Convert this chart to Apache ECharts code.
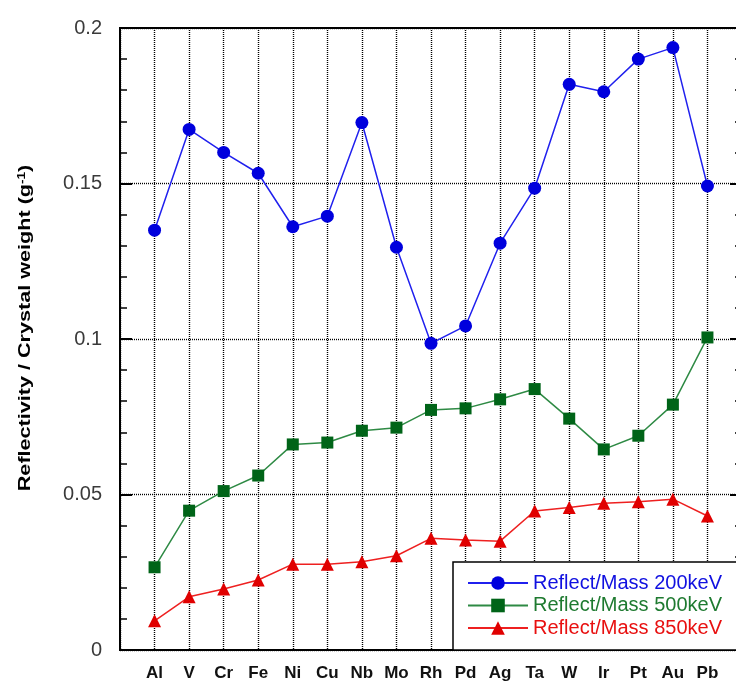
<!DOCTYPE html>
<html>
<head>
<meta charset="utf-8">
<script src="https://cdn.jsdelivr.net/npm/echarts@6/dist/echarts.min.js"></script>
<style>
  html, body { margin: 0; padding: 0; background: #ffffff; }
  #chart { width: 736px; height: 681px; }
</style>
</head>
<body>
<div id="chart"></div>
<script>
// Crystal materials along the x axis
const elements = ['Al', 'V', 'Cr', 'Fe', 'Ni', 'Cu', 'Nb', 'Mo', 'Rh', 'Pd', 'Ag', 'Ta', 'W', 'Ir', 'Pt', 'Au', 'Pb'];

// Reflectivity divided by crystal mass (g^-1) at three energies
const reflect200 = [0.1350, 0.1674, 0.1600, 0.1533, 0.1361, 0.1395, 0.1696, 0.1295, 0.0986, 0.1042, 0.1308, 0.1485, 0.1819, 0.1795, 0.1900, 0.1937, 0.1492];
const reflect500 = [0.0266, 0.0448, 0.0511, 0.0561, 0.0661, 0.0667, 0.0705, 0.0715, 0.0772, 0.0777, 0.0806, 0.0839, 0.0744, 0.0645, 0.0689, 0.0789, 0.1005];
const reflect850 = [0.0094, 0.0171, 0.0196, 0.0225, 0.0276, 0.0276, 0.0284, 0.0303, 0.0359, 0.0354, 0.0350, 0.0447, 0.0458, 0.0472, 0.0477, 0.0485, 0.0431];

const seriesNames = ['Reflect/Mass 200keV', 'Reflect/Mass 500keV', 'Reflect/Mass 850keV'];
const yAxisTitle = 'Reflectivity / Crystal weight (g';

const chart = echarts.init(document.getElementById('chart'), null, { renderer: 'canvas' });

const toPoints = arr => arr.map((v, i) => [i + 1, v]);

const dotted = { color: '#000', width: 1.4, type: [1, 1] };

function makeSeries(name, values, color, lineColor, symbol, size) {
  return {
    name: name,
    type: 'line',
    data: toPoints(values),
    symbol: symbol,
    symbolSize: size,
    showSymbol: true,
    z: 3,
    lineStyle: { color: lineColor, width: 1.5 },
    itemStyle: { color: color, borderColor: color, borderWidth: 0 },
    emphasis: { disabled: true },
    animation: false
  };
}

const option = {
  animation: false,
  backgroundColor: '#ffffff',
  grid: {
    left: 120, top: 28, width: 622, height: 622,
    outerBoundsMode: 'none',
    show: true, borderColor: '#000', borderWidth: 2, backgroundColor: 'transparent',
    containLabel: false
  },
  xAxis: {
    type: 'value',
    min: 0, max: elements.length + 1, interval: 1,
    axisLine: { show: true, lineStyle: { color: '#000', width: 2 } },
    axisTick: { show: false },
    splitLine: { show: true, lineStyle: dotted },
    axisLabel: {
      margin: 15,
      fontFamily: 'Liberation Sans, Arial, sans-serif',
      fontSize: 17,
      fontWeight: 'bold',
      color: '#111',
      formatter: v => (v >= 1 && v <= elements.length) ? elements[v - 1] : '',
      showMinLabel: true,
      showMaxLabel: true
    }
  },
  yAxis: [
    {
      type: 'value',
      min: 0, max: 0.2, interval: 0.05,
      axisLine: { show: true, lineStyle: { color: '#000', width: 2 } },
      axisTick: { show: true, inside: true, length: 12, lineStyle: { color: '#000', width: 2 } },
      minorTick: { show: true, splitNumber: 5, length: 7, lineStyle: { color: '#000', width: 1.5 } },
      splitLine: { show: true, lineStyle: dotted },
      axisLabel: {
        margin: 18,
        fontFamily: 'Liberation Sans, Arial, sans-serif',
        fontSize: 20,
        color: '#3a3a3a'
      }
    },
    {
      type: 'value',
      position: 'right',
      min: 0, max: 0.2, interval: 0.05,
      axisLine: { show: true, lineStyle: { color: '#000', width: 2 } },
      axisTick: { show: true, inside: true, length: 12, lineStyle: { color: '#000', width: 2 } },
      minorTick: { show: true, splitNumber: 5, length: 7, lineStyle: { color: '#000', width: 1.5 } },
      splitLine: { show: false },
      axisLabel: { show: false }
    }
  ],
  legend: {
    orient: 'vertical',
    left: 453, top: 562,
    padding: [10, 60, 11, 14],
    itemWidth: 60, itemHeight: 17, itemGap: 0.5,
    backgroundColor: '#fff',
    borderColor: '#000', borderWidth: 1.5,
    selectedMode: false,
    textStyle: { fontFamily: 'Liberation Sans, Arial, sans-serif', fontSize: 20, lineHeight: 22, padding: [0, 0, 0, 0] },
    data: [
      { name: seriesNames[0], textStyle: { color: '#1010e0' } },
      { name: seriesNames[1], textStyle: { color: '#1e7a30' } },
      { name: seriesNames[2], textStyle: { color: '#e81010' } }
    ]
  },
  graphic: [
    {
      type: 'text',
      x: 26, y: 328,
      rotation: Math.PI / 2,
      scaleX: 1.35,
      style: {
        text: '{m|' + yAxisTitle + '}{s|-1}{m|)}',
        rich: {
          m: { fontFamily: 'Liberation Sans, Arial, sans-serif', fontSize: 16, fontWeight: 'bold', fill: '#000' },
          s: { fontFamily: 'Liberation Sans, Arial, sans-serif', fontSize: 10, fontWeight: 'bold', fill: '#000', verticalAlign: 'top', padding: [0, 0, 8, 0] }
        },
        align: 'center',
        verticalAlign: 'middle'
      },
      z: 10
    }
  ],
  series: [
    makeSeries(seriesNames[0], reflect200, '#0000dd', '#2020ee', 'circle', 13),
    makeSeries(seriesNames[1], reflect500, '#006418', '#2e8a44', 'rect', 12),
    makeSeries(seriesNames[2], reflect850, '#e00000', '#ee2020', 'triangle', 13)
  ]
};

chart.setOption(option);
</script>
</body>
</html>
